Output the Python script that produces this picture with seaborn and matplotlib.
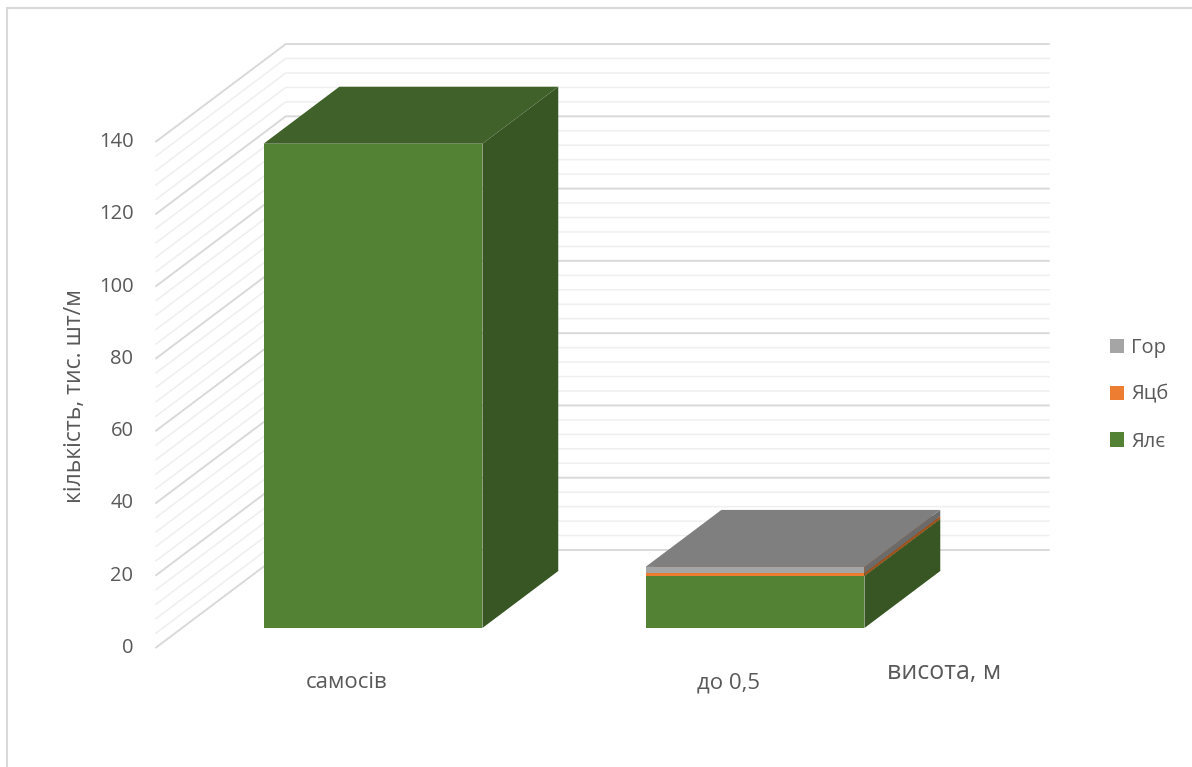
import matplotlib
matplotlib.use("Agg")
import matplotlib.pyplot as plt
from matplotlib.transforms import Affine2D, IdentityTransform
from matplotlib.patches import Polygon, Rectangle, Patch
import seaborn as sns
import numpy as np

# ---- data -------------------------------------------------------------
categories = ["самосів", "до 0,5"]
series_names = ["Ялє", "Яцб", "Гор"]
yale = [134.0, 14.4]
yatsb = [0.0, 0.8]
hor = [0.0, 1.7]
y_ticks = [0, 20, 40, 60, 80, 100, 120, 140]
y_title = "кількість, тис. шт/м"
x_title = "висота, м"

# ---- style ------------------------------------------------------------
front_colors = ["#548235", "#ed7d31", "#a5a5a5"]
top_colors = ["#40612a", "#b35e24", "#7f7f7f"]
side_colors = ["#375623", "#a0521e", "#6b6b6b"]
text_color = "#595959"

W, H, DPI = 1192, 767, 100
sns.set_theme(style="white")
plt.rcParams["font.family"] = ["Open Sans", "DejaVu Sans"]

fig = plt.figure(figsize=(W / DPI, H / DPI), dpi=DPI)

# axes = front plane of the bars (pixel box, origin top-left)
PX_PER_UNIT = 3.614
ax_l, ax_r = 182.0, 946.0
ax_b = 628.0
ax_t = ax_b - 140 * PX_PER_UNIT
ax = fig.add_axes([ax_l / W, 1 - ax_b / H, (ax_r - ax_l) / W, (ax_b - ax_t) / H])
ax.set_xlim(-0.5, 1.5)
ax.set_ylim(0, 140)
ax.axis("off")

# oblique depth: a plane shifted by dy pixels up moves SLOPE*dy pixels right
SLOPE = 1.33
LABEL_PLANE = -20
BAR_DEPTH = 57
WALL_PLANE = 78


def plane(dy):
    return ax.transData + Affine2D().translate(dy * SLOPE, dy)


def to_px(x, v, dy):
    px, py = ax.transData.transform((x, v))
    return (px + dy * SLOPE, py + dy)


# ---- walls: gridlines on the left wall and back wall ------------------
for v in np.arange(0, 141, 4):
    major = v % 20 == 0
    col = "#d9d9d9" if major else "#efefef"
    lw = 1.4 if major else 1.1
    p0 = to_px(-0.5, v, LABEL_PLANE)
    p1 = to_px(-0.5, v, WALL_PLANE)
    p2 = to_px(1.5, v, WALL_PLANE)
    ax.plot([p0[0], p1[0], p2[0]], [p0[1], p1[1], p2[1]], color=col, lw=lw,
            transform=IdentityTransform(), clip_on=False, zorder=1,
            solid_capstyle="butt")

# ---- stacked bars: front faces through seaborn -----------------------
series_vals = [yale, yatsb, hor]
bottoms = np.zeros(len(categories))
BAR_W = 0.573
for k, (name, vals) in enumerate(zip(series_names, series_vals)):
    n_before = len(ax.patches)
    sns.barplot(x=categories, y=vals, order=categories, color=front_colors[k],
                width=BAR_W, bottom=bottoms.copy(), ax=ax, linewidth=0,
                saturation=1, zorder=3 + k)
    new = ax.patches[n_before:]
    for p in new:
        x0, y0 = p.get_x(), p.get_y()
        x1, y1 = x0 + p.get_width(), y0 + p.get_height()
        if p.get_height() <= 0:
            continue
        side = [to_px(x1, y0, 0), to_px(x1, y1, 0),
                to_px(x1, y1, BAR_DEPTH), to_px(x1, y0, BAR_DEPTH)]
        top = [to_px(x0, y1, 0), to_px(x1, y1, 0),
               to_px(x1, y1, BAR_DEPTH), to_px(x0, y1, BAR_DEPTH)]
        ax.add_patch(Polygon(side, closed=True, facecolor=side_colors[k],
                             edgecolor="none", transform=IdentityTransform(),
                             clip_on=False, zorder=3 + k))
        ax.add_patch(Polygon(top, closed=True, facecolor=top_colors[k],
                             edgecolor="none", transform=IdentityTransform(),
                             clip_on=False, zorder=3 + k + 0.5))
    bottoms = bottoms + np.asarray(vals)

if ax.get_legend() is not None:
    ax.get_legend().remove()
ax.set_xlim(-0.5, 1.5)
ax.set_ylim(0, 140)
ax.axis("off")

# ---- value axis labels on the front edge of the left wall -------------
for v in y_ticks:
    ax.text(-0.5, v, str(v), transform=plane(LABEL_PLANE) + Affine2D().translate(-22, 0),
            ha="right", va="center", fontsize=14.5, color=text_color, clip_on=False)

# ---- category labels --------------------------------------------------
for i, c in enumerate(categories):
    ax.text(i, 0, c, transform=plane(LABEL_PLANE) + Affine2D().translate(0, -35),
            ha="center", va="center", fontsize=16, color=text_color, clip_on=False)

# ---- axis titles ------------------------------------------------------
fig.text(944 / W, 1 - 672 / H, x_title, ha="center", va="center",
         fontsize=18, color=text_color)
fig.text(75 / W, 1 - 396 / H, y_title, ha="center", va="center",
         rotation=90, fontsize=16.5, color=text_color)

# ---- legend -----------------------------------------------------------
handles = [Patch(facecolor=front_colors[k], edgecolor="none") for k in range(3)][::-1]
labels = series_names[::-1]
leg = fig.legend(handles, labels, loc="upper left",
                 bbox_to_anchor=(1110 / W, 1 - 338 / H), frameon=False,
                 fontsize=14.5, handlelength=0.7, handleheight=0.7,
                 handletextpad=0.35, labelspacing=1.33, borderpad=0,
                 borderaxespad=0)
for t in leg.get_texts():
    t.set_color(text_color)

# ---- chart area border ------------------------------------------------
fig.patches.append(Rectangle((7.5 / W, -0.05), 1.2, (H - 7.5) / H + 0.05,
                             transform=fig.transFigure, fill=False,
                             edgecolor="#d9d9d9", lw=1.5, zorder=0))

fig.savefig("out.png", dpi=DPI, facecolor="white")
